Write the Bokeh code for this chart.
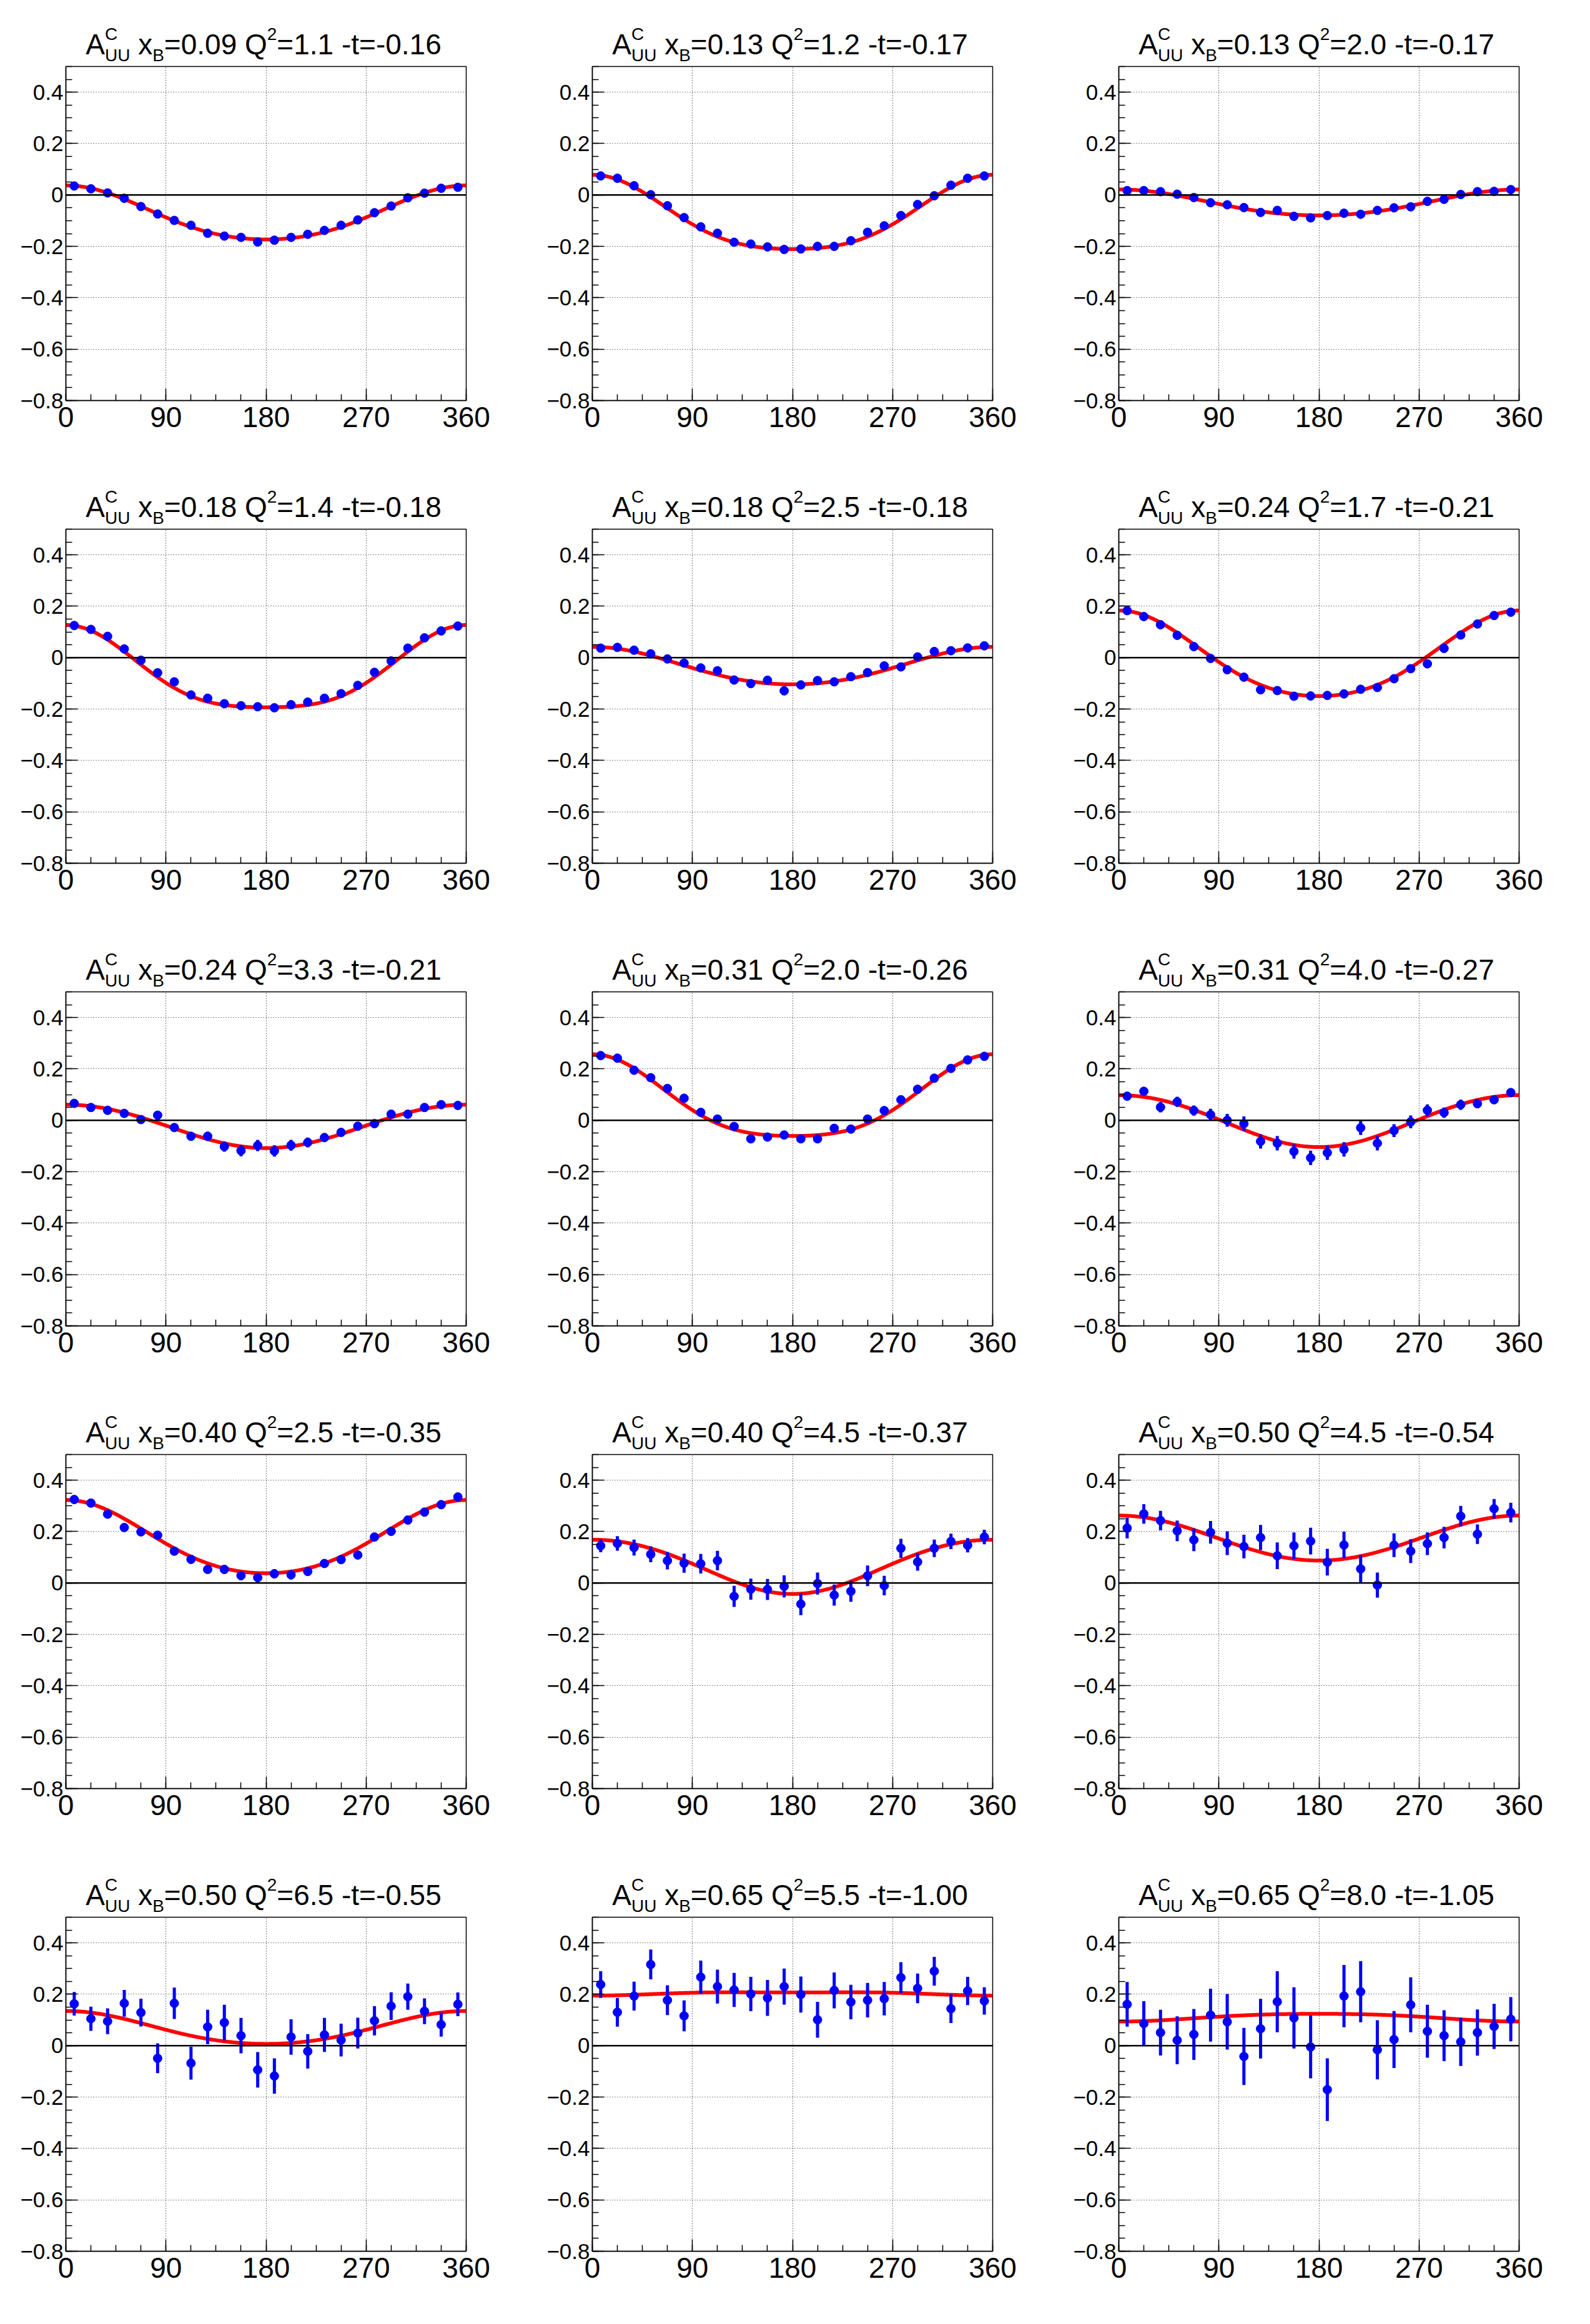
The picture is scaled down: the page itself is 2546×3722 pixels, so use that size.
import numpy as np
from bokeh.plotting import figure
from bokeh.models import FixedTicker, CustomJSTickFormatter, Span
from bokeh.layouts import column, row
from bokeh.core.properties import value
from bokeh.embed import file_html
from bokeh.resources import INLINE

# ---------------- data ----------------
phi = [7.5, 22.5, 37.5, 52.5, 67.5, 82.5, 97.5, 112.5, 127.5, 142.5, 157.5, 172.5,
       187.5, 202.5, 217.5, 232.5, 247.5, 262.5, 277.5, 292.5, 307.5, 322.5, 337.5, 352.5]

xB_labels = ["0.09", "0.13", "0.13", "0.18", "0.18", "0.24", "0.24", "0.31", "0.31",
             "0.40", "0.40", "0.50", "0.50", "0.65", "0.65"]
Q2_labels = ["1.1", "1.2", "2.0", "1.4", "2.5", "1.7", "3.3", "2.0", "4.0",
             "2.5", "4.5", "4.5", "6.5", "5.5", "8.0"]
t_labels = ["-0.16", "-0.17", "-0.17", "-0.18", "-0.18", "-0.21", "-0.21", "-0.26", "-0.27",
            "-0.35", "-0.37", "-0.54", "-0.55", "-1.00", "-1.05"]

y01 = [0.035, 0.024, 0.008, -0.013, -0.045, -0.074, -0.099, -0.118, -0.149, -0.160, -0.165, -0.183,
       -0.176, -0.165, -0.153, -0.138, -0.118, -0.097, -0.069, -0.043, -0.011, 0.007, 0.026, 0.030]
e01 = [0.004, 0.004, 0.004, 0.004, 0.004, 0.004, 0.005, 0.005, 0.005, 0.005, 0.005, 0.005,
       0.005, 0.005, 0.005, 0.005, 0.005, 0.004, 0.004, 0.004, 0.004, 0.004, 0.004, 0.004]
y02 = [0.074, 0.065, 0.036, 0.001, -0.042, -0.088, -0.124, -0.149, -0.184, -0.191, -0.202, -0.212,
       -0.210, -0.200, -0.200, -0.178, -0.145, -0.120, -0.080, -0.037, -0.003, 0.038, 0.065, 0.074]
e02 = [0.005, 0.005, 0.005, 0.005, 0.005, 0.006, 0.006, 0.006, 0.006, 0.006, 0.006, 0.006,
       0.006, 0.006, 0.006, 0.006, 0.006, 0.006, 0.005, 0.005, 0.005, 0.005, 0.005, 0.005]
y03 = [0.017, 0.017, 0.013, 0.003, -0.010, -0.030, -0.038, -0.049, -0.068, -0.060, -0.083, -0.089,
       -0.080, -0.071, -0.075, -0.060, -0.050, -0.046, -0.025, -0.017, 0.002, 0.013, 0.014, 0.021]
e03 = [0.006, 0.006, 0.006, 0.006, 0.007, 0.007, 0.007, 0.008, 0.008, 0.008, 0.009, 0.009,
       0.009, 0.009, 0.008, 0.008, 0.008, 0.007, 0.007, 0.007, 0.006, 0.006, 0.006, 0.006]
y04 = [0.125, 0.110, 0.083, 0.034, -0.010, -0.059, -0.094, -0.145, -0.158, -0.179, -0.187, -0.191,
       -0.195, -0.183, -0.173, -0.158, -0.140, -0.108, -0.057, -0.013, 0.037, 0.077, 0.104, 0.123]
e04 = [0.005, 0.005, 0.005, 0.005, 0.006, 0.006, 0.006, 0.007, 0.007, 0.007, 0.007, 0.007,
       0.007, 0.007, 0.007, 0.007, 0.007, 0.006, 0.006, 0.006, 0.005, 0.005, 0.005, 0.005]
y05 = [0.037, 0.040, 0.029, 0.015, -0.005, -0.021, -0.040, -0.051, -0.087, -0.101, -0.088, -0.129,
       -0.106, -0.089, -0.094, -0.074, -0.058, -0.032, -0.036, 0.003, 0.024, 0.027, 0.038, 0.046]
e05 = [0.008, 0.008, 0.008, 0.009, 0.009, 0.010, 0.011, 0.012, 0.013, 0.014, 0.016, 0.017,
       0.017, 0.016, 0.014, 0.013, 0.012, 0.011, 0.010, 0.009, 0.009, 0.008, 0.008, 0.008]
y06 = [0.183, 0.160, 0.128, 0.087, 0.043, -0.003, -0.047, -0.076, -0.125, -0.128, -0.150, -0.149,
       -0.147, -0.141, -0.123, -0.116, -0.082, -0.043, -0.024, 0.036, 0.088, 0.131, 0.164, 0.177]
e06 = [0.006, 0.006, 0.006, 0.006, 0.006, 0.007, 0.007, 0.007, 0.008, 0.008, 0.008, 0.008,
       0.008, 0.008, 0.008, 0.008, 0.007, 0.007, 0.007, 0.006, 0.006, 0.006, 0.006, 0.006]
y07 = [0.066, 0.050, 0.039, 0.027, 0.003, 0.020, -0.028, -0.062, -0.062, -0.102, -0.118, -0.098,
       -0.119, -0.097, -0.086, -0.067, -0.047, -0.023, -0.013, 0.024, 0.024, 0.050, 0.061, 0.058]
e07 = [0.008, 0.008, 0.009, 0.010, 0.011, 0.012, 0.014, 0.016, 0.018, 0.020, 0.022, 0.022,
       0.022, 0.021, 0.019, 0.017, 0.015, 0.013, 0.012, 0.011, 0.010, 0.009, 0.008, 0.008]
y08 = [0.252, 0.242, 0.195, 0.166, 0.124, 0.086, 0.031, 0.005, -0.024, -0.072, -0.065, -0.057,
       -0.072, -0.072, -0.031, -0.034, 0.005, 0.038, 0.080, 0.121, 0.164, 0.202, 0.235, 0.249]
e08 = [0.007, 0.007, 0.007, 0.007, 0.008, 0.008, 0.008, 0.009, 0.009, 0.010, 0.010, 0.010,
       0.010, 0.010, 0.010, 0.009, 0.009, 0.008, 0.008, 0.008, 0.007, 0.007, 0.007, 0.007]
y09 = [0.094, 0.113, 0.051, 0.072, 0.038, 0.022, 0.000, -0.013, -0.082, -0.089, -0.121, -0.146,
       -0.126, -0.113, -0.029, -0.089, -0.040, -0.006, 0.039, 0.030, 0.061, 0.065, 0.080, 0.108]
e09 = [0.010, 0.010, 0.020, 0.020, 0.020, 0.023, 0.025, 0.028, 0.028, 0.028, 0.028, 0.028,
       0.028, 0.028, 0.028, 0.028, 0.025, 0.025, 0.023, 0.020, 0.020, 0.018, 0.012, 0.010]
y10 = [0.325, 0.311, 0.268, 0.216, 0.199, 0.186, 0.124, 0.092, 0.053, 0.053, 0.029, 0.021,
       0.036, 0.032, 0.045, 0.076, 0.091, 0.109, 0.179, 0.201, 0.245, 0.276, 0.305, 0.335]
e10 = [0.008, 0.008, 0.009, 0.009, 0.010, 0.011, 0.013, 0.014, 0.016, 0.017, 0.018, 0.018,
       0.018, 0.018, 0.017, 0.016, 0.014, 0.013, 0.011, 0.010, 0.009, 0.009, 0.008, 0.008]
y11 = [0.145, 0.154, 0.138, 0.112, 0.087, 0.077, 0.075, 0.087, -0.052, -0.024, -0.025, -0.013,
       -0.082, -0.002, -0.047, -0.032, 0.028, -0.010, 0.135, 0.082, 0.135, 0.162, 0.147, 0.179]
e11 = [0.025, 0.028, 0.031, 0.031, 0.034, 0.037, 0.038, 0.038, 0.041, 0.041, 0.041, 0.043,
       0.043, 0.043, 0.041, 0.041, 0.040, 0.038, 0.037, 0.034, 0.034, 0.030, 0.028, 0.028]
y12 = [0.214, 0.269, 0.243, 0.203, 0.168, 0.197, 0.155, 0.142, 0.177, 0.106, 0.145, 0.163,
       0.081, 0.148, 0.055, -0.008, 0.147, 0.124, 0.153, 0.177, 0.260, 0.190, 0.289, 0.274]
e12 = [0.040, 0.038, 0.038, 0.040, 0.044, 0.044, 0.046, 0.046, 0.049, 0.052, 0.052, 0.052,
       0.052, 0.052, 0.055, 0.049, 0.046, 0.046, 0.044, 0.042, 0.040, 0.038, 0.038, 0.038]
y13 = [0.163, 0.105, 0.095, 0.165, 0.129, -0.049, 0.165, -0.068, 0.073, 0.090, 0.039, -0.094,
       -0.118, 0.034, -0.022, 0.042, 0.022, 0.049, 0.097, 0.154, 0.191, 0.134, 0.082, 0.161]
e13 = [0.046, 0.047, 0.050, 0.052, 0.054, 0.058, 0.061, 0.064, 0.067, 0.069, 0.069, 0.069,
       0.069, 0.069, 0.067, 0.066, 0.064, 0.060, 0.057, 0.054, 0.051, 0.050, 0.047, 0.046]
y14 = [0.238, 0.130, 0.193, 0.316, 0.177, 0.116, 0.267, 0.230, 0.217, 0.201, 0.186, 0.230,
       0.199, 0.101, 0.215, 0.170, 0.177, 0.183, 0.265, 0.223, 0.290, 0.144, 0.213, 0.174]
e14 = [0.052, 0.056, 0.056, 0.058, 0.058, 0.060, 0.064, 0.066, 0.066, 0.067, 0.070, 0.070,
       0.070, 0.070, 0.070, 0.067, 0.067, 0.065, 0.060, 0.058, 0.056, 0.056, 0.055, 0.053]
y15 = [0.161, 0.086, 0.051, 0.021, 0.044, 0.119, 0.093, -0.042, 0.066, 0.171, 0.108, -0.005,
       -0.171, 0.193, 0.210, -0.016, 0.024, 0.159, 0.056, 0.039, 0.015, 0.051, 0.075, 0.103]
e15 = [0.087, 0.087, 0.089, 0.093, 0.099, 0.103, 0.108, 0.111, 0.116, 0.119, 0.119, 0.122,
       0.122, 0.121, 0.119, 0.115, 0.111, 0.107, 0.103, 0.099, 0.094, 0.090, 0.088, 0.086]

# fit parameters (c0 + c1 cos(phi) + c2 cos(2 phi))
f01 = [-0.0775, 0.105, 0.0095]
f02 = [-0.090, 0.1445, 0.024]
f03 = [-0.032, 0.0505, 0.003]
f04 = [-0.0655, 0.160, 0.0325]
f05 = [-0.0355, 0.073, 0.0045]
f06 = [0.000, 0.1665, 0.017]
f07 = [-0.022, 0.0845, -0.0015]
f08 = [0.069, 0.159, 0.029]
f09 = [0.000, 0.101, -0.003]
f10 = [0.167, 0.1425, 0.0135]
f11 = [0.069, 0.1055, -0.006]
f12 = [0.174, 0.0875, 0.001]
f13 = [0.0665, 0.064, 0.0045]
f14 = [0.2035, -0.006, -0.0025]
f15 = [0.111, -0.015, -0.002]

x_ticks = [0, 90, 180, 270, 360]
y_ticks = [-0.8, -0.6, -0.4, -0.2, 0.0, 0.2, 0.4]

Y = [y01, y02, y03, y04, y05, y06, y07, y08, y09, y10, y11, y12, y13, y14, y15]
E = [e01, e02, e03, e04, e05, e06, e07, e08, e09, e10, e11, e12, e13, e14, e15]
F = [f01, f02, f03, f04, f05, f06, f07, f08, f09, f10, f11, f12, f13, f14, f15]

# ---------------- layout / style ----------------
W, H = 843, 741
TH = 105                      # height of the title strip above each frame
BL, BR, BT, BB = 105, 97, 1, 100
FW = W - BL - BR              # frame width in pixels
FONT = "Liberation Sans"
MAIN, SMALL = 46, 28
TITLE_CX = 316.5              # title centre, px from the frame's left edge
BASE = 19.0                   # main baseline above the bottom of the title strip
SUP, SUB = 22.5, -12.0
MID = 0.3465                  # em-box middle above the baseline (Liberation Sans)

CW = {'0': 556, '1': 556, '2': 556, '3': 556, '4': 556, '5': 556, '6': 556, '7': 556,
      '8': 556, '9': 556, '.': 278, ' ': 278, '=': 584, '-': 333, 't': 278, 'x': 500,
      'A': 667, 'B': 667, 'C': 722, 'U': 722, 'Q': 778}


def tw(s, size):
    return sum(CW.get(c, 556) for c in s) * size / 1000.0


yfmt_code = """
if (Math.abs(tick) < 1e-9) { return "0"; }
var s = Math.abs(tick).toFixed(1);
return (tick < 0 ? "\u2212" : "") + s;
"""


def title_fig(xb, q2, t):
    tf = figure(width=W, height=TH, x_range=(0, FW), y_range=(0, TH),
                output_backend="svg", toolbar_location=None, title=None,
                x_axis_type=None, y_axis_type=None,
                min_border_left=BL, min_border_right=BR,
                min_border_top=0, min_border_bottom=0,
                background_fill_color="white", border_fill_color="white")
    tf.outline_line_color = None
    tf.grid.visible = False
    pieces = [("A", "m"), ("C", "sup"), ("UU", "sub"), (" x", "m"), ("B", "sub"),
              ("=" + xb + " Q", "m"), ("2", "sup"), ("=" + q2 + " -t=" + t, "m")]
    total = (tw("A", MAIN) + tw("UU", SMALL) + tw(" x", MAIN) + tw("B", SMALL)
             + tw("=" + xb + " Q", MAIN) + tw("2", SMALL) + tw("=" + q2 + " -t=" + t, MAIN))
    cur = TITLE_CX - total / 2.0
    big = {"x": [], "y": [], "text": []}
    small = {"x": [], "y": [], "text": []}
    ym = BASE + MID * MAIN
    ysup = BASE + SUP + MID * SMALL
    ysub = BASE + SUB + MID * SMALL
    i = 0
    while i < len(pieces):
        txt, kind = pieces[i]
        if kind == "m":
            lead = len(txt) - len(txt.lstrip(" "))
            shown = txt.lstrip(" ")
            big["x"].append(cur + tw(" " * lead, MAIN))
            big["y"].append(ym)
            big["text"].append(shown)
            cur += tw(txt, MAIN)
            i += 1
        elif kind == "sup" and i + 1 < len(pieces) and pieces[i + 1][1] == "sub":
            sub = pieces[i + 1][0]
            small["x"] += [cur, cur]
            small["y"] += [ysup, ysub]
            small["text"] += [txt, sub]
            cur += max(tw(txt, SMALL), tw(sub, SMALL))
            i += 2
        else:
            small["x"].append(cur)
            small["y"].append(ysup if kind == "sup" else ysub)
            small["text"].append(txt)
            cur += tw(txt, SMALL)
            i += 1
    tf.text(x=big["x"], y=big["y"], text=big["text"], text_font=value(FONT),
            text_font_size=value(f"{MAIN}px"), text_color="black",
            text_align=value("left"), text_baseline=value("middle"))
    tf.text(x=small["x"], y=small["y"], text=small["text"], text_font=value(FONT),
            text_font_size=value(f"{SMALL}px"), text_color="black",
            text_align=value("left"), text_baseline=value("middle"))
    return tf


phi_arr = np.array(phi)
phi_fine = np.linspace(0.0, 360.0, 721)

panels = []
for k in range(15):
    p = figure(width=W, height=H - TH, x_range=(0, 360), y_range=(-0.8, 0.5),
               output_backend="svg", toolbar_location=None, title=None,
               min_border_left=BL, min_border_right=BR, min_border_top=BT,
               min_border_bottom=BB, background_fill_color="white",
               border_fill_color="white")
    p.outline_line_color = "black"
    p.outline_line_width = 1.5

    p.xaxis.ticker = FixedTicker(ticks=x_ticks, minor_ticks=[22.5 * j for j in range(17)])
    p.yaxis.ticker = FixedTicker(ticks=y_ticks, minor_ticks=[-0.8 + 0.05 * j for j in range(27)])
    p.yaxis.formatter = CustomJSTickFormatter(code=yfmt_code)

    for ax in (p.xaxis[0], p.yaxis[0]):
        ax.axis_line_color = "black"
        ax.axis_line_width = 1.5
        ax.major_tick_in = 19
        ax.major_tick_out = 0
        ax.minor_tick_in = 10
        ax.minor_tick_out = 0
        ax.major_tick_line_width = 1.5
        ax.minor_tick_line_width = 1.5
        ax.major_tick_line_color = "black"
        ax.minor_tick_line_color = "black"
        ax.major_label_text_font = FONT
        ax.major_label_text_color = "black"
    p.xaxis.major_label_text_font_size = "46px"
    p.xaxis.major_label_standoff = 10
    p.yaxis.major_label_text_font_size = "35px"
    p.yaxis.major_label_standoff = 4

    for g in (p.xgrid[0], p.ygrid[0]):
        g.grid_line_color = "black"
        g.grid_line_alpha = 0.9
        g.grid_line_dash = "1 3"
        g.grid_line_width = 1.2

    p.add_layout(Span(location=0, dimension="width", line_color="black", line_width=2.4))

    c0, c1, c2 = F[k]
    rad = np.deg2rad(phi_fine)
    p.line(phi_fine, c0 + c1 * np.cos(rad) + c2 * np.cos(2 * rad),
           line_color="#ff0000", line_width=6)

    yv = np.array(Y[k])
    ev = np.array(E[k])
    p.segment(x0=phi_arr, y0=yv - ev, x1=phi_arr, y1=yv + ev,
              line_color="#0000ff", line_width=5)
    p.scatter(phi_arr, yv, size=14, marker="circle",
              fill_color="#0000ff", line_color="#0000ff")

    panels.append(column(title_fig(xB_labels[k], Q2_labels[k], t_labels[k]), p, spacing=0))

layout = column(*[row(*panels[3 * r:3 * r + 3], spacing=0) for r in range(5)], spacing=0)

open("out.html", "w").write(file_html(layout, INLINE))
